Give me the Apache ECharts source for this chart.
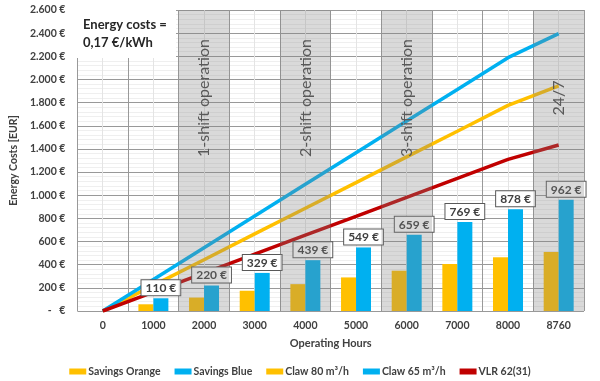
<!DOCTYPE html>
<html>
<head>
<meta charset="utf-8">
<script src="https://cdn.jsdelivr.net/npm/echarts@6/dist/echarts.min.js"></script>
<style>html,body{margin:0;padding:0;background:#fff}#c{width:600px;height:381px}</style>
</head>
<body>
<div id="c"></div>
<script>
const categories = ['0','1000','2000','3000','4000','5000','6000','7000','8000','8760'];
const savingsOrange = [null, 58, 116, 175, 232, 290, 348, 406, 464, 510];
const savingsBlue = [null, 110, 220, 329, 439, 549, 659, 769, 878, 962];
const claw80 = [0, 221, 443, 666, 888, 1109, 1331, 1553, 1776, 1944];
const claw65 = [0, 273, 547, 820, 1094, 1367, 1641, 1914, 2188, 2396];
const vlr = [0, 163, 327, 491, 655, 818, 982, 1145, 1310, 1434];
const bandCategories = ['2000','4000','6000','8760'];
const bandLabels = ['1-shift operation','2-shift operation','3-shift operation','24/7'];
const seriesNames = ['Savings Orange','Savings Blue','Claw 80 m³/h','Claw 65 m³/h','VLR 62(31)'];
const infoText = 'Energy costs =\n0,17 €/kWh';

const FONT = 'Lato';
const TXT = '#404040';
function fmtY(v){
  if (v === 0) return '-   €';
  return String(v).replace(/\B(?=(\d{3})+(?!\d))/g, '.') + ' €';
}
const chart = echarts.init(document.getElementById('c'), null, {renderer:'canvas'});
const bandData = bandCategories.map((c, i) => {
  const idx = categories.indexOf(c);
  return [{xAxis: idx*2, name: bandLabels[i]}, {xAxis: idx*2+2}];
});
chart.setOption({
  animation: false,
  textStyle: {fontFamily: FONT},
  title: {
    text: infoText, left: 74, top: 10, padding: [6, 9, 6, 9],
    backgroundColor: '#fff',
    textStyle: {fontFamily: FONT, fontSize: 13, fontWeight: 'bold', color: '#262626', lineHeight: 18, width: 84}
  },
  grid: {left: 74, right: 16, top: 10, bottom: 70, containLabel: false},
  legend: {
    data: seriesNames, left: 'center', top: 361, itemWidth: 17, itemHeight: 6, itemGap: 14, icon: 'rect',
    textStyle: {fontFamily: FONT, fontSize: 10.5, fontWeight: 'bold', color: TXT, padding: [0,0,0,-3]}
  },
  xAxis: [{
    type: 'category', data: categories, boundaryGap: true,
    name: 'Operating Hours', nameLocation: 'middle', nameGap: 27,
    nameTextStyle: {fontFamily: FONT, fontSize: 11, fontWeight: 'bold', color: TXT},
    axisLine: {show: false}, axisTick: {show: false},
    axisLabel: {fontFamily: FONT, fontSize: 10.5, fontWeight: 'bold', color: TXT, margin: 9},
    splitLine: {show: false}
  },{
    type: 'value', min: 0, max: 20, interval: 1, show: true,
    axisLine: {show: false}, axisTick: {show: false}, axisLabel: {show: false},
    splitLine: {show: true, lineStyle: {color: ['#999999', '#e4e4e4'], width: 1}}
  }],
  yAxis: {
    type: 'value', min: 0, max: 2600, interval: 200,
    name: 'Energy Costs [EUR]', nameLocation: 'middle', nameGap: 58,
    nameTextStyle: {fontFamily: FONT, fontSize: 10.5, fontWeight: 'bold', color: TXT},
    axisLine: {show: false}, axisTick: {show: false},
    axisLabel: {fontFamily: FONT, fontSize: 10.5, fontWeight: 'bold', color: TXT, margin: 12, formatter: fmtY},
    splitLine: {show: true, lineStyle: {color: '#999999', width: 1}},
    minorTick: {show: false, splitNumber: 5},
    minorSplitLine: {show: true, lineStyle: {color: '#efefef', width: 1}}
  },
  series: [
    {name: seriesNames[0], type: 'bar', data: savingsOrange, barWidth: 15, barGap: '0%',
     itemStyle: {color: '#FFC000'}, z: 4},
    {name: seriesNames[1], type: 'bar', data: savingsBlue, barWidth: 15, barGap: '0%',
     itemStyle: {color: '#00B0F0'}, z: 4,
     label: {show: true, position: 'top', distance: 3, formatter: p => p.value + ' €',
       fontFamily: FONT, fontSize: 12, fontWeight: 'bold', color: TXT,
       backgroundColor: '#fff', borderColor: '#595959', borderWidth: 1, padding: [2, 4, 1, 4]}},
    {name: seriesNames[2], type: 'line', data: claw80, symbol: 'none', lineStyle: {color: '#FFC000', width: 3.5}, itemStyle: {color: '#FFC000'}, z: 3},
    {name: seriesNames[3], type: 'line', data: claw65, symbol: 'none', lineStyle: {color: '#00B0F0', width: 3.5}, itemStyle: {color: '#00B0F0'}, z: 3},
    {name: seriesNames[4], type: 'line', data: vlr, symbol: 'none', lineStyle: {color: '#C00000', width: 3.5}, itemStyle: {color: '#C00000'}, z: 3},
    {name: 'bands', type: 'line', xAxisIndex: 1, data: [[0, 0]], symbol: 'none', lineStyle: {opacity: 0}, z: 20, silent: true,
     markArea: {silent: true, z: 20, itemStyle: {color: 'rgba(128,128,128,0.3)'},
       label: {show: true, formatter: '{b}', position: ['50%', 88], rotate: 90, align: 'center', verticalAlign: 'middle',
         fontFamily: FONT, fontSize: 16, color: '#595959'},
       data: bandData}}
  ]
});
</script>
</body>
</html>
